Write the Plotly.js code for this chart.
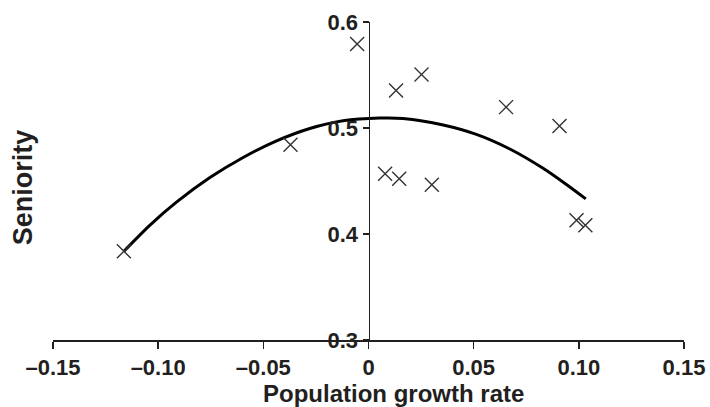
<!DOCTYPE html>
<html>
<head>
<meta charset="utf-8">
<script src="https://cdn.plot.ly/plotly-3.0.1.min.js"></script>
<style>html,body{margin:0;padding:0;background:#fff;}#chart{width:710px;height:407px;}</style>
</head>
<body>
<div id="chart"></div>
<script>
// Observed points (population growth rate vs seniority)
const growthRate = [-0.1163, -0.0371, -0.0054, 0.0079, 0.0146, 0.0131, 0.0252, 0.0301, 0.0654, 0.0908, 0.0989, 0.1031];
const seniority  = [0.3837, 0.4842, 0.5793, 0.4569, 0.4522, 0.5353, 0.5504, 0.4465, 0.5197, 0.5018, 0.4129, 0.4082];

// Fitted curve
const curveX = [-0.1163, -0.104, -0.0913, -0.0754, -0.0596, -0.0437, -0.0279, -0.0121, 0.0054, 0.0164, 0.0355, 0.0513, 0.0672, 0.083, 0.0941, 0.1033];
const curveY = [0.3837, 0.4082, 0.4300, 0.4532, 0.4722, 0.4878, 0.4995, 0.5068, 0.5094, 0.5090, 0.5029, 0.4940, 0.4802, 0.4620, 0.4467, 0.4331];

// Tick labels
const xTickVals = [-0.15, -0.10, -0.05, 0, 0.05, 0.10, 0.15];
const xTickText = ['\u20130.15', '\u20130.10', '\u20130.05', '0', '0.05', '0.10', '0.15'];
const yTickVals = [0.3, 0.4, 0.5, 0.6];
const yTickText = ['0.3', '0.4', '0.5', '0.6'];

const ink = '#231f20';
const tickFont = {family: 'Liberation Sans, Arial, sans-serif', size: 22, color: ink, weight: 'bold'};

const traces = [
  {
    x: curveX, y: curveY, type: 'scatter', mode: 'lines',
    line: {color: '#000', width: 3, shape: 'spline', smoothing: 0.8},
    hoverinfo: 'skip', showlegend: false
  },
  {
    x: growthRate, y: seniority, type: 'scatter', mode: 'markers',
    marker: {symbol: 'x-thin-open', size: 14, color: '#333', line: {color: '#333', width: 1.4}},
    showlegend: false
  }
];

const layout = {
  width: 710, height: 407,
  margin: {l: 53, r: 26, t: 22, b: 67, autoexpand: false},
  paper_bgcolor: '#fff', plot_bgcolor: '#fff',
  showlegend: false,
  xaxis: {
    range: [-0.15, 0.15], tickvals: xTickVals, ticktext: xTickText,
    ticks: 'outside', ticklen: 7, tickwidth: 1.5, tickcolor: ink,
    showline: true, linecolor: ink, linewidth: 1.5,
    showgrid: false, zeroline: false, automargin: false,
    tickfont: tickFont
  },
  yaxis: {
    range: [0.3, 0.6], tickvals: yTickVals, ticktext: yTickText,
    anchor: 'free', position: 0.5,
    ticks: 'outside', ticklen: 6, tickwidth: 1.5, tickcolor: ink,
    showline: true, linecolor: ink, linewidth: 1.5,
    showgrid: false, zeroline: false, automargin: false,
    tickfont: tickFont
  },
  annotations: [
    {
      text: 'Population growth rate', xref: 'paper', yref: 'paper',
      x: 0.54, y: 0, xanchor: 'center', yanchor: 'top', yshift: -38,
      showarrow: false,
      font: {family: 'Liberation Sans, Arial, sans-serif', size: 24, color: ink, weight: 'bold'}
    },
    {
      text: 'Seniority', xref: 'paper', yref: 'paper',
      x: 0, y: 0.48, xanchor: 'center', yanchor: 'middle', xshift: -30,
      textangle: -90, showarrow: false,
      font: {family: 'Liberation Sans, Arial, sans-serif', size: 27, color: ink, weight: 'bold'}
    }
  ]
};

Plotly.newPlot('chart', traces, layout, {staticPlot: true, displayModeBar: false});
</script>
</body>
</html>
